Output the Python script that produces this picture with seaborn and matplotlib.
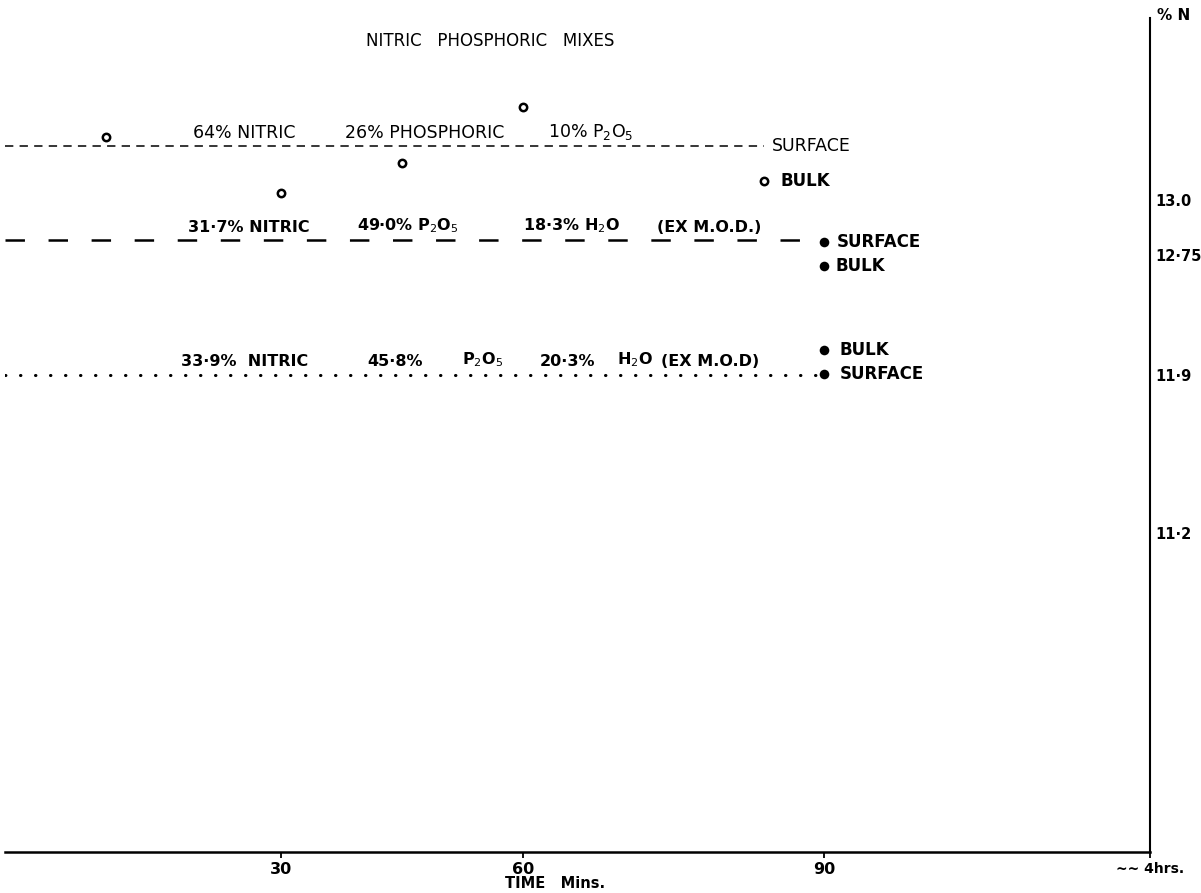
import numpy as np
import pandas as pd
import matplotlib
matplotlib.use("Agg")
import matplotlib.pyplot as plt
import seaborn as sns

# ---------------- data ----------------
title = "NITRIC   PHOSPHORIC   MIXES"
x_label = "TIME   Mins."
y_label = "% N"
x_ticks = [30, 60, 90, 240]
x_tick_labels = ["30", "60", "90", "~~ 4hrs."]
y_ticks = [13.0, 12.75, 11.9, 11.2]
y_tick_labels = ["13.0", "12·75", "11·9", "11·2"]

# 64% nitric / 26% phosphoric / 10% P2O5
s1_line_x = [0, 84]
s1_line_y = [13.23, 13.23]
s1_pts_x = [11, 30, 45, 60]
s1_pts_y = [13.27, 13.03, 13.16, 13.40]
s1_bulk = (84, 13.08)

# 31.7% nitric / 49.0% P2O5 / 18.3% H2O
s2_line_x = [0, 90]
s2_line_y = [12.82, 12.82]
s2_surface = (90, 12.81)
s2_bulk = (90, 12.67)

# 33.9% nitric / 45.8% P2O5 / 20.3% H2O
s3_line_x = [0, 90]
s3_line_y = [11.90, 11.90]
s3_surface = (90, 11.91)
s3_bulk = (90, 12.08)

# hand-drawn (non-uniform) axis scales: value -> pixel distance
XB = [-100, 0, 30, 60, 90, 240, 400]
XP = [-920, 0, 276, 518, 819, 1145, 1490]
YB = [8.0, 9.8, 11.2, 11.9, 12.75, 13.0, 13.78, 15.0]
YP = [-400, 0, 319, 477, 597, 652, 834, 1110]

def fx(v):
    return np.interp(v, XB, XP)
def ix(p):
    return np.interp(p, XP, XB)
def fy(v):
    return np.interp(v, YB, YP)
def iy(p):
    return np.interp(p, YP, YB)

# ---------------- figure ----------------
sns.set_theme(style="white")
plt.rcParams["font.family"] = ["DejaVu Sans"]
plt.rcParams["lines.scale_dashes"] = False
plt.rcParams["mathtext.fontset"] = "dejavusans"
plt.rcParams["text.color"] = "black"
plt.rcParams["xtick.color"] = "black"
plt.rcParams["ytick.color"] = "black"

W, H = 1201, 893
fig = plt.figure(figsize=(W / 100, H / 100), dpi=100)
fig.patch.set_facecolor("white")
ax = fig.add_axes([5 / W, (H - 852) / H, 1145 / W, (852 - 18) / H])
ax.set_facecolor("white")
ax.set_xscale("function", functions=(fx, ix))
ax.set_yscale("function", functions=(fy, iy))
ax.set_xlim(0, 240)
ax.set_ylim(9.8, 13.78)

# lines
df1 = pd.DataFrame({"x": s1_line_x, "y": s1_line_y})
df2 = pd.DataFrame({"x": s2_line_x, "y": s2_line_y})
df3 = pd.DataFrame({"x": s3_line_x, "y": s3_line_y})
sns.lineplot(data=df1, x="x", y="y", ax=ax, color="black", lw=1.1)
ax.lines[-1].set_dashes((6, 4.5))
sns.lineplot(data=df2, x="x", y="y", ax=ax, color="black", lw=1.8)
ax.lines[-1].set_dashes((14, 17))
sns.lineplot(data=df3, x="x", y="y", ax=ax, color="black", lw=2.2)
ax.lines[-1].set_dashes((0.3, 10.5))
ax.lines[-1].set_dash_capstyle("round")

# points
p1 = pd.DataFrame({"x": s1_pts_x + [s1_bulk[0]], "y": s1_pts_y + [s1_bulk[1]]})
sns.scatterplot(data=p1, x="x", y="y", ax=ax, s=28, marker="o",
                facecolor="white", edgecolor="black", linewidth=1.8, zorder=5)
p2 = pd.DataFrame({"x": [s2_surface[0], s2_bulk[0], s3_surface[0], s3_bulk[0]],
                   "y": [s2_surface[1], s2_bulk[1], s3_surface[1], s3_bulk[1]]})
sns.scatterplot(data=p2, x="x", y="y", ax=ax, s=48, marker="o",
                color="black", edgecolor="black", linewidth=0, zorder=5)

# annotations along lines
def label(txt, x, y, dy=3, weight="normal", size=12.5):
    ax.annotate(txt, xy=(x, y), xytext=(0, dy), textcoords="offset points",
                ha="left", va="bottom", fontsize=size, fontweight=weight, color="black")

label("64% NITRIC", 20.4, s1_line_y[0])
label("26% PHOSPHORIC", 37.9, s1_line_y[0])
label("10% P$_2$O$_5$", 62.5, s1_line_y[0])

label("31·7% NITRIC", 19.9, s2_line_y[0], weight="bold", size=11.5)
label("49·0% P$_2$O$_5$", 39.4, s2_line_y[0], weight="bold", size=11.5)
label("18·3% H$_2$O", 60.0, s2_line_y[0], weight="bold", size=11.5)
label("(EX M.O.D.)", 73.4, s2_line_y[0], weight="bold", size=11.5)

label("33·9%  NITRIC", 19.1, s3_line_y[0], dy=4, weight="bold", size=11.5)
label("45·8%", 40.7, s3_line_y[0], dy=4, weight="bold", size=11.5)
label("P$_2$O$_5$", 52.4, s3_line_y[0], dy=4, weight="bold", size=11.5)
label("20·3%", 61.7, s3_line_y[0], dy=4, weight="bold", size=11.5)
label("H$_2$O", 69.4, s3_line_y[0], dy=4, weight="bold", size=11.5)
label("(EX M.O.D)", 73.8, s3_line_y[0], dy=4, weight="bold", size=11.5)

def side(txt, xy, dx, weight="bold", size=12):
    ax.annotate(txt, xy=xy, xytext=(dx, 0), textcoords="offset points",
                ha="left", va="center", fontsize=size, fontweight=weight, color="black")

side("SURFACE", (s1_line_x[1], s1_line_y[1]), 6, weight="normal", size=12.5)
side("BULK", s1_bulk, 12)
side("SURFACE", s2_surface, 9)
side("BULK", s2_bulk, 8.5)
side("BULK", s3_bulk, 11.5)
side("SURFACE", s3_surface, 11.5)

# title
fig.text(490 / W, 1 - 41 / H, title, ha="center", va="center",
         fontsize=12, color="black")

# axes styling
for s in ["top", "left"]:
    ax.spines[s].set_visible(False)
ax.spines["bottom"].set_color("black")
ax.spines["bottom"].set_linewidth(1.8)
ax.spines["right"].set_color("black")
ax.spines["right"].set_linewidth(1.5)

ax.set_xticks(x_ticks)
ax.set_xticklabels(x_tick_labels, fontsize=11.5, fontweight="bold")
ax.get_xticklabels()[-1].set_fontsize(10)
ax.tick_params(axis="x", direction="out", length=4, width=1.3, color="black", pad=3,
               bottom=True)
ax.yaxis.tick_right()
ax.set_yticks(y_ticks)
ax.set_yticklabels(y_tick_labels, fontsize=10.5, fontweight="bold")
ax.tick_params(axis="y", length=0, pad=4, right=True, left=False)
ax.minorticks_off()
ax.set_xlabel("")
ax.set_ylabel("")
fig.text(555 / W, 1 - 884 / H, x_label, ha="center", va="center",
         fontsize=10.5, fontweight="bold")
fig.text(1157 / W, 1 - 16 / H, y_label, ha="left", va="center",
         fontsize=11, fontweight="bold")

fig.savefig("out.png", dpi=100, facecolor="white")
